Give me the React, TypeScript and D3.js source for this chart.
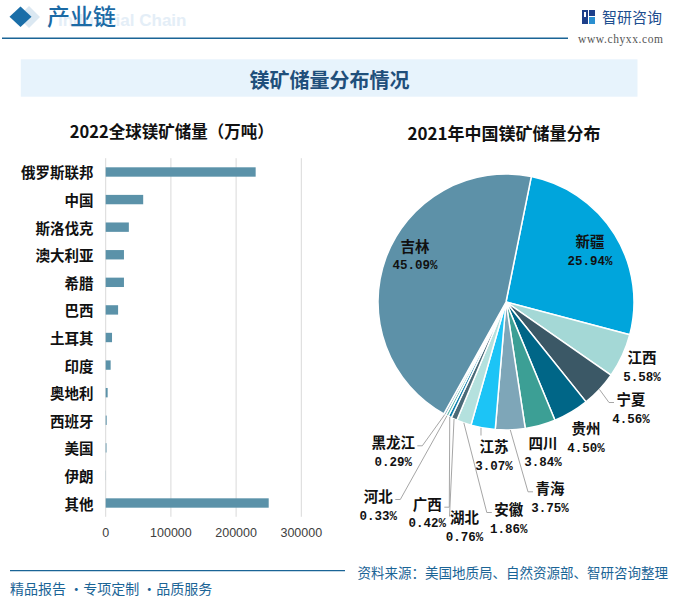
import React from 'react';
import * as d3 from 'd3';

// ---------- data ----------
const countries = ['俄罗斯联邦', '中国', '斯洛伐克', '澳大利亚', '希腊', '巴西', '土耳其', '印度', '奥地利', '西班牙', '美国', '伊朗', '其他'];
const reserves = [230000, 57500, 35500, 28000, 28000, 19000, 9700, 7600, 3000, 1500, 1200, 200, 250000];
const xTicks = [0, 100000, 200000, 300000];

const provinces = ['新疆', '江西', '宁夏', '贵州', '四川', '青海', '江苏', '安徽', '湖北', '广西', '河北', '黑龙江', '吉林'];
const shares = [25.94, 5.58, 4.56, 4.5, 3.84, 3.75, 3.07, 1.86, 0.76, 0.42, 0.33, 0.29, 45.09];
const sliceColors = ['#00a5dc', '#a4d8d6', '#3b5866', '#006687', '#3c9f95', '#7ea6b8', '#1cc4f6', '#b4e1de', '#4a6a78', '#0a7fae', '#55b3a9', '#7ea6b8', '#5d91a8'];

// label layout (offset of label block from pie centre, leader style)
const labelOffsets: [number, number][] = [
  [84, -51], [136, 65], [125, 107], [80, 136], [37, 150.5], [44, 196.3], [-12, 154],
  [2.8, 217], [-41.5, 225], [-78.7, 211.7], [-127.7, 204], [-112.7, 150.3], [-91, -46.5],
];
const leaderSides = ['none', 'none', 'left', 'none', 'none', 'left', 'down', 'left', 'leftv', 'right', 'right', 'right', 'none'];

const CJK = '"Noto Sans CJK SC", "Noto Sans", sans-serif';
const NUM = '"Liberation Mono", "DejaVu Sans Mono", monospace';

export default function App() {
  // bar chart scales
  const x = d3.scaleLinear().domain([0, 300000]).range([105.7, 301.3]);
  const y = d3.scaleBand<string>().domain(countries).range([158.2, 516.8]).paddingInner(0.66).paddingOuter(0.33);

  // pie
  const cx = 506, cy = 302, R = 128;
  const start = (11.4 * Math.PI) / 180;
  const pie = d3.pie<number>().sort(null).startAngle(start).endAngle(start + 2 * Math.PI);
  const arcs = pie(shares);
  const arc = d3.arc<d3.PieArcDatum<number>>().innerRadius(0).outerRadius(R);

  const pt = (a: number, r: number) => [cx + r * Math.sin(a), cy - r * Math.cos(a)];

  return (
    <svg width={680} height={600} style={{ position: 'absolute', left: 0, top: 0, background: '#fff' }} fontFamily={CJK}>
      <rect x={0} y={0} width={680} height={600} fill="#fff" />
      {/* header */}
      <path d="M29,6 L40,17 L29,28 L18,17 Z" fill="#dbe8f2" />
      <path d="M20.5,6.5 L31.5,16.7 L20.5,27 L9.5,16.7 Z" fill="#1a6ea8" />
      <text x={58} y={26} fontFamily='"Liberation Sans", Arial, sans-serif' fontWeight="bold" fontSize={17} fill="#e4eef7">Industrial Chain</text>
      <text x={47} y={25} fontSize={23} fill="#1b6aa5" fontWeight={500}>产业链</text>
      <line x1={2} x2={568} y1={38.3} y2={38.3} stroke="#1a6496" strokeWidth={1.5} />
      <g>
        <rect x={582} y={10} width={6} height={14} fill="#1d3f8a" />
        <rect x={589} y={10} width={6} height={6} fill="#1d3f8a" />
        <rect x={589} y={17} width={6} height={7} fill="#2a8fd0" />
        <rect x={584} y={12} width={2} height={5} fill="#fff" />
      </g>
      <text x={602} y={22.5} fontSize={15} fill="#1d4e8f">智研咨询</text>
      <text x={578} y={43} fontFamily='"Liberation Serif", serif' fontSize={11.5} fill="#555" letterSpacing={0.6}>www.chyxx.com</text>

      {/* title band */}
      <rect x={20.8} y={59.3} width={616.7} height={37.4} fill="#e7f3fc" />
      <text x={329.5} y={79} textAnchor="middle" dominantBaseline="central" fontSize={20} fontWeight="bold" fill="#1f4f7b">镁矿储量分布情况</text>

      {/* bar chart */}
      <text x={171.7} y={131} textAnchor="middle" dominantBaseline="central" fontSize={16.5} fontWeight="bold" fill="#111">2022全球镁矿储量（万吨）</text>
      {xTicks.map((t) => (
        <g key={t}>
          <line x1={x(t)} x2={x(t)} y1={158.2} y2={516.8} stroke="#d9d9d9" strokeWidth={1} />
          <text x={x(t)} y={533} textAnchor="middle" dominantBaseline="central" fontFamily='"Liberation Sans", Arial, sans-serif' fontSize={12.5} fill="#404040">{t}</text>
        </g>
      ))}
      {countries.map((c, i) => (
        <g key={c}>
          <rect x={x(0)} y={y(c)} width={x(reserves[i]) - x(0)} height={y.bandwidth()} fill="#5b92a9" />
          <text x={93.5} y={(y(c) as number) + y.bandwidth() / 2} textAnchor="end" dominantBaseline="central" fontSize={14.5} fontWeight="bold" fill="#111">{c}</text>
        </g>
      ))}

      {/* pie chart */}
      <text x={504} y={132} textAnchor="middle" dominantBaseline="central" fontSize={17} fontWeight="bold" fill="#111">2021年中国镁矿储量分布</text>
      <g transform={`translate(${cx},${cy})`}>
        {arcs.map((a, i) => (
          <path key={provinces[i]} d={arc(a) as string} fill={sliceColors[i]} stroke="#fff" strokeWidth={1.5} strokeLinejoin="round" />
        ))}
      </g>
      {arcs.map((a, i) => {
        const [dx, dy] = labelOffsets[i];
        const lx = cx + dx, ly = cy + dy;
        const nameY = ly - 10.5, pctY = ly + 10.5;
        const w = 14 * provinces[i].length;
        const mid = (a.startAngle + a.endAngle) / 2;
        const [sx, sy] = pt(mid, R);
        const side = leaderSides[i];
        let pts: number[][] | null = null;
        if (side === 'left') {
          const ex = lx - w / 2 - 3, ey = nameY + 4;
          pts = [[sx, sy], [ex - 5, ey], [ex, ey]];
        } else if (side === 'right') {
          const ex = lx + w / 2 + 3, ey = nameY + 4;
          pts = [[sx, sy], [ex + 5, ey], [ex, ey]];
        } else if (side === 'leftv') {
          const ex = lx - w / 2 - 1, ey = nameY;
          pts = [[sx, sy], [ex, ey]];
        } else if (side === 'down') {
          pts = [[sx - 2, sy], [sx - 2, nameY - 10]];
        }
        return (
          <g key={'l' + provinces[i]}>
            {pts && <polyline points={pts.map((p) => p.join(',')).join(' ')} fill="none" stroke="#a6a6a6" strokeWidth={1} />}
            <text x={lx} y={nameY} textAnchor="middle" dominantBaseline="central" fontSize={14.5} fontWeight="bold" fill="#111">{provinces[i]}</text>
            <text x={lx} y={pctY} textAnchor="middle" dominantBaseline="central" fontFamily={NUM} fontSize={12.5} fontWeight="bold" fill="#111">{shares[i].toFixed(2) + '%'}</text>
          </g>
        );
      })}

      {/* footer */}
      <line x1={10} x2={345} y1={570.7} y2={570.7} stroke="#1a6496" strokeWidth={1.2} />
      <text x={10} y={587.5} dominantBaseline="central" fontSize={14} fill="#1a6496">精品报告 ·专项定制 ·品质服务</text>
      <text x={668} y={572} textAnchor="end" dominantBaseline="central" fontSize={13.5} fill="#1a6496">资料来源：美国地质局、自然资源部、智研咨询整理</text>
    </svg>
  );
}
